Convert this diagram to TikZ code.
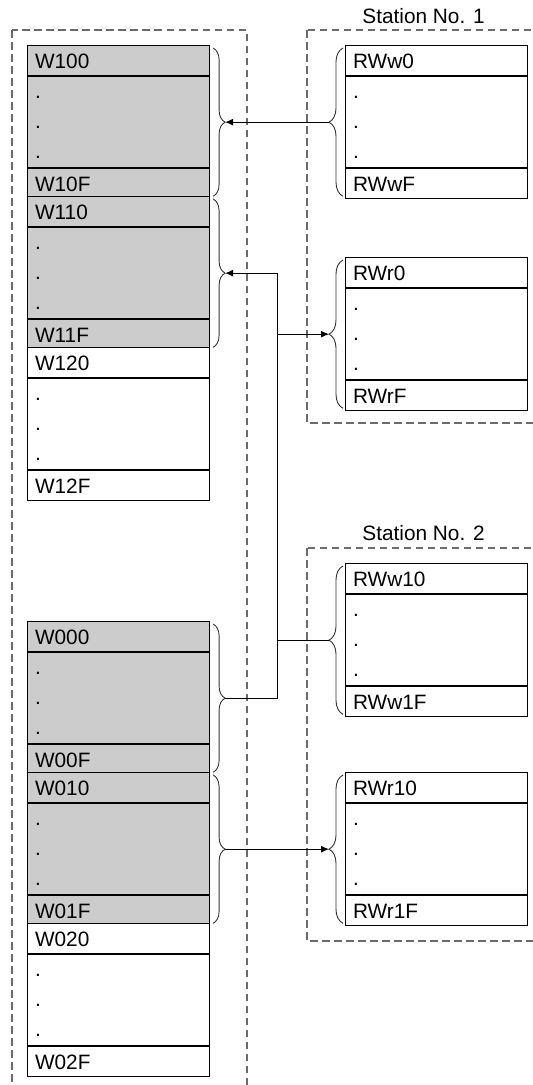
\documentclass[tikz,border=0pt]{standalone}
\usepackage{fontspec}
\setmainfont{Liberation Sans}
\usetikzlibrary{arrows.meta,decorations.pathreplacing,calc}
\newcommand\regblock[6]{%
  \node[cell, fill=#6] (#1h) at (#2,#3) {#4};
  \node[cell, fill=#6, minimum height=91pt] (#1d) at (#1h.south west) {};
  \foreach \k/\dy in {1/22,2/52,3/82}{\node[dotlbl] (#1dot\k) at ([shift={(8,\dy)}]#1d.north west) {.};}
  \node[cell, fill=#6] (#1f) at (#1d.south west) {#5};
}
\begin{document}
\begin{tikzpicture}[x=1pt,y=-1pt,
  txt/.style={font=\fontsize{20.8}{24}\selectfont},
  cell/.style={txt, draw=black, line width=1.1pt, minimum height=30pt, text width=167pt,
    inner xsep=7.5pt, inner ysep=0pt, align=left, text height=15pt, text depth=0pt, anchor=north west},
  dotlbl/.style={txt, anchor=base west, inner sep=0pt},
  frame/.style={draw=black!58, line width=1.2pt, dash pattern=on 7.5pt off 4.5pt},
  rbrace/.style={draw=black!80, line width=0.9pt, decorate, decoration={brace, amplitude=12pt}},
  lbrace/.style={draw=black!80, line width=0.9pt, decorate, decoration={brace, amplitude=14pt}},
  conn/.style={draw=black, line width=0.9pt},
  arr/.style={-{Latex[length=8pt,width=7pt]}},
  stlbl/.style={txt, anchor=base, inner sep=0pt}
]
\useasboundingbox (0,0) rectangle (533,1085);
\clip (0,0) rectangle (533,1085);
\definecolor{regfill}{HTML}{CCCCCC}
% frames
\draw[frame] (12,30) rectangle (247,1100);
\draw[frame] (307,30) rectangle (560,423);
\draw[frame] (307,548) rectangle (560,941);
\node[stlbl] (st1) at (423.5,23) {Station No. 1};
\node[stlbl] (st2) at (423.5,540) {Station No. 2};
% master blocks
\regblock{Wa}{27}{45}{W100}{W10F}{regfill}
\regblock{Wb}{27}{196}{W110}{W11F}{regfill}
\regblock{Wc}{27}{347}{W120}{W12F}{white}
\regblock{Wd}{27}{621}{W000}{W00F}{regfill}
\regblock{We}{27}{772}{W010}{W01F}{regfill}
\regblock{Wf}{27}{923}{W020}{W02F}{white}
% station blocks
\regblock{Ra}{345}{45}{RWw0}{RWwF}{white}
\regblock{Rb}{345}{257}{RWr0}{RWrF}{white}
\regblock{Rc}{345}{563}{RWw10}{RWw1F}{white}
\regblock{Rd}{345}{772}{RWr10}{RWr1F}{white}
% braces on master side
\foreach \b in {Wa,Wb,Wd,We}{
  \draw[rbrace] ([shift={(3,3)}]\b h.north east) -- ([shift={(3,-3)}]\b f.south east);
  \coordinate (\b t) at ($(\b h.north east)!0.5!(\b f.south east)+(15,0)$);
}
% braces on station side
\foreach \b in {Ra,Rb,Rc,Rd}{
  \draw[lbrace] ([shift={(-2,-3)}]\b f.south west) -- ([shift={(-2,3)}]\b h.north west);
  \coordinate (\b t) at ($(\b h.north west)!0.5!(\b f.south west)+(-16,0)$);
}
\coordinate (bus) at (277,0);
% connectors
\draw[conn,arr] (Rat) -- (Wat);
\draw[conn,arr] (Wdt) -- (Wdt -| bus) -- (Wbt -| bus) -- (Wbt);
\draw[conn] (Rct) -- (Rct -| bus);
\draw[conn,arr] (Rbt -| bus) -- (Rbt);
\draw[conn,arr] (Wet) -- (Rdt);
\end{tikzpicture}
\end{document}
